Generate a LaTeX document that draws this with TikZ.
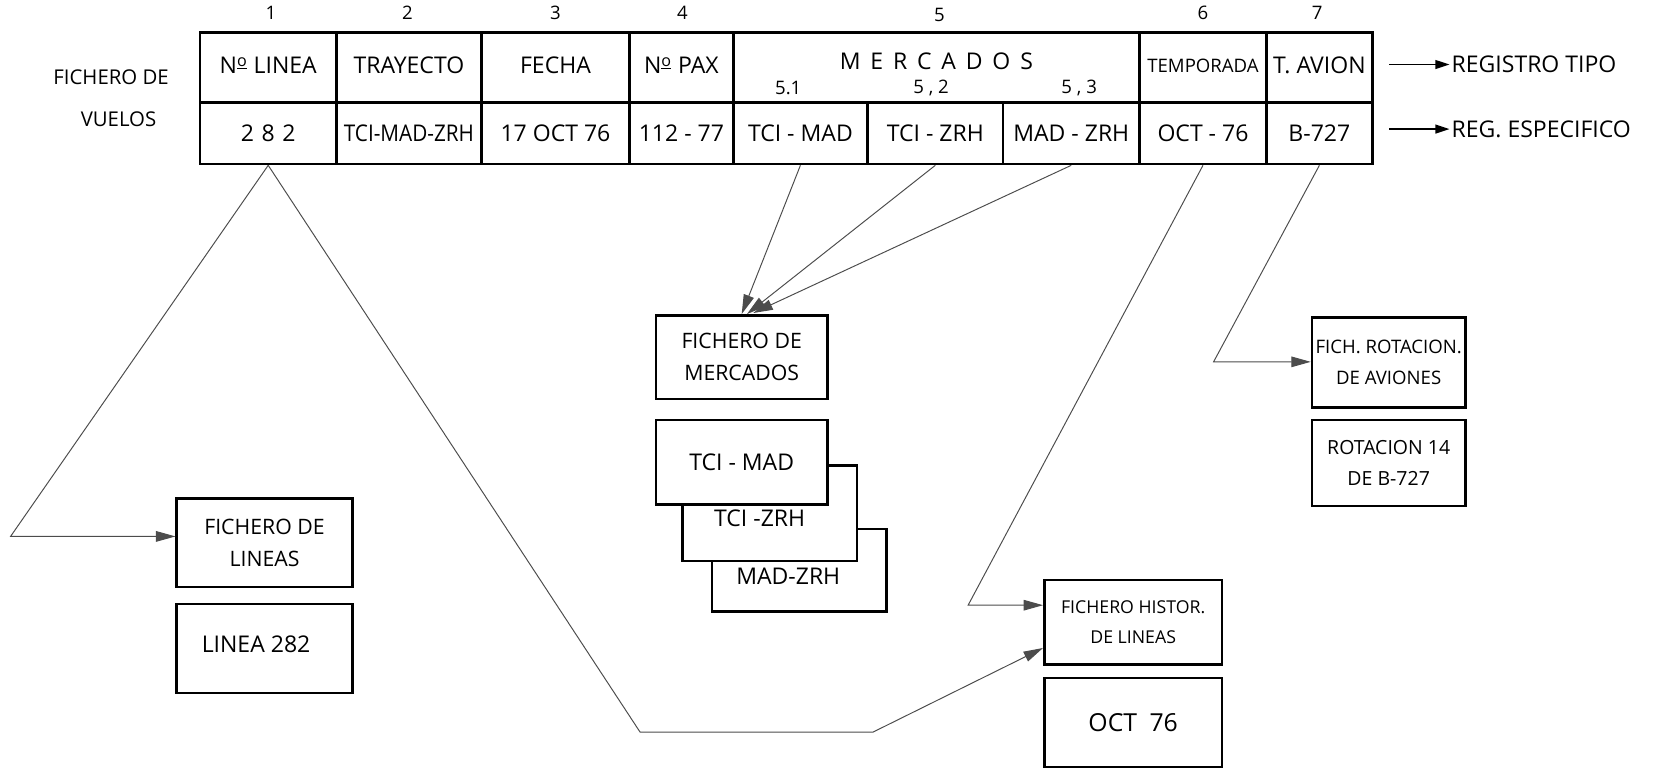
\documentclass[tikz,border=0pt]{standalone}
\usepackage{fontspec}
\setmainfont{Open Sans}
\usetikzlibrary{arrows.meta,fit,calc}
\begin{document}
\begin{tikzpicture}[x=0.021cm,y=-0.021cm,
  cellbox/.style={draw, line width=1.5pt, inner sep=0pt},
  boxx/.style={draw, line width=1.4pt, inner sep=0pt, fill=white},
  txt/.style={font=\fontsize{13}{15}\selectfont, inner sep=1pt},
  btxt/.style={font=\fontsize{12}{18}\selectfont, align=center, inner sep=1pt},
  small/.style={font=\fontsize{10.5}{12}\selectfont, inner sep=1pt},
  lbl/.style={font=\fontsize{11.5}{13}\selectfont, inner sep=1pt},
  conn/.style={line width=0.55pt, black!70},
  tip/.style={-{Triangle[length=11pt,width=6pt]}},
  regarrow/.style={line width=0.9pt, -{Triangle[length=8pt,width=5pt]}},
]
\useasboundingbox (0,0) rectangle (1568,727);

% left labels
\node[lbl] (lf1) at (105,73) {FICHERO DE};
\node[lbl] (lf2) at (112,113) {VUELOS};

% column numbers
\node[small] (n1) at (256,12) {1};
\node[small] (n2) at (385,12) {2};
\node[small] (n3) at (525,12) {3};
\node[small] (n4) at (645,12) {4};
\node[small] (n5) at (888,14) {5};
\node[small] (n6) at (1137,12) {6};
\node[small] (n7) at (1245,12) {7};

% header row
\node[cellbox, fit={(189,31)(318,97)}] (h1) {};
\node[cellbox, fit={(318,31)(455,97)}] (h2) {};
\node[cellbox, fit={(455,31)(595,97)}] (h3) {};
\node[cellbox, fit={(595,31)(693,97)}] (h4) {};
\node[cellbox, fit={(693,31)(1077,97)}] (h5) {};
\node[cellbox, fit={(1077,31)(1197,97)}] (h6) {};
\node[cellbox, fit={(1197,31)(1297,97)}] (h7) {};
\node[txt] (h1t) at ($(h1)+(0,-2)$) {N\textsuperscript{\underline{o}} LINEA};
\node[txt] (h2t) at ($(h2)+(0,-2)$) {TRAYECTO};
\node[txt] (h3t) at ($(h3)+(0,-2)$) {FECHA};
\node[txt] (h4t) at ($(h4)+(0,-2)$) {N\textsuperscript{\underline{o}} PAX};
\node[txt] (h5t) at (885,58) {M\, E\, R\, C\, A\, D\, O\, S};
\node[small] (s51) at (745,83) {5.1};
\node[small] (s52) at (880,83) {5 , 2};
\node[small] (s53) at (1020,83) {5 , 3};
\node[small] (h6t) at ($(h6)+(0,-2)$) {TEMPORADA};
\node[txt] (h7t) at ($(h7)+(0,-2)$) {T. AVION};

% value row
\node[cellbox, fit={(189,97)(318,155)}] (v1) {};
\node[cellbox, fit={(318,97)(455,155)}] (v2) {};
\node[cellbox, fit={(455,97)(595,155)}] (v3) {};
\node[cellbox, fit={(595,97)(693,155)}] (v4) {};
\node[cellbox, fit={(693,97)(820,155)}] (m1) {};
\node[cellbox, fit={(820,97)(948,155)}] (m2) {};
\node[cellbox, fit={(948,97)(1077,155)}] (m3) {};
\node[cellbox, fit={(1077,97)(1197,155)}] (v6) {};
\node[cellbox, fit={(1197,97)(1297,155)}] (v7) {};
\node[txt] (v1t) at (v1) {2\,\,8\,\,2};
\node[txt] (v2t) at (v2) {\scalebox{0.9}[1]{TCI-MAD-ZRH}};
\node[txt] (v3t) at (v3) {17 OCT 76};
\node[txt] (v4t) at (v4) {112 - 77};
\node[txt] (m1t) at (m1) {TCI - MAD};
\node[txt] (m2t) at (m2) {TCI - ZRH};
\node[txt] (m3t) at (m3) {MAD - ZRH};
\node[txt] (v6t) at (v6) {OCT - 76};
\node[txt] (v7t) at (v7) {B-727};

% register labels
\node[txt, anchor=west] (rt) at (1370,61) {REGISTRO TIPO};
\node[txt, anchor=west] (re) at (1370,122) {REG. ESPECIFICO};
\coordinate (ra) at (1313,61);
\coordinate (rb) at (1313,122);
\draw[regarrow] (ra) -- (rt.west);
\draw[regarrow] (rb) -- (re.west);

% lower boxes
\node[boxx, fit={(167,471)(333,555)}] (lin) {};
\node[btxt] (lint) at (lin) {FICHERO DE\\LINEAS};
\node[boxx, fit={(167,571)(333,655)}] (l282) {};
\node[txt] (l282t) at ($(l282)+(-8,-4)$) {LINEA 282};

\node[boxx, fit={(620,298)(782,377)}] (fm) {};
\node[btxt] (fmt) at (fm) {FICHERO DE\\MERCADOS};
\node[boxx, fit={(673,500)(838,578)}] (mz) {};
\node[boxx, fit={(645,440)(810,530)}] (tz) {};
\node[boxx, fit={(620,397)(782,477)}] (tm) {};
\node[txt] (tmt) at (701,437) {TCI - MAD};
\node[txt] (tzt) at (718,490) {TCI -ZRH};
\node[txt] (mzt) at (745,545) {MAD-ZRH};

\node[boxx, fit={(1240,300)(1385,385)}] (rot) {};
\node[btxt, font=\fontsize{10.5}{17}\selectfont] (rott) at (rot) {FICH. ROTACION.\\DE AVIONES};
\node[boxx, fit={(1240,397)(1385,478)}] (r14) {};
\node[btxt, font=\fontsize{11}{18}\selectfont] (r14t) at (r14) {ROTACION 14\\DE B-727};

\node[boxx, fit={(987,548)(1155,628)}] (hist) {};
\node[btxt, font=\fontsize{10}{17}\selectfont] (histt) at (hist) {FICHERO HISTOR.\\DE LINEAS};
\node[boxx, fit={(987,641)(1155,725)}] (o76) {};
\node[txt, font=\fontsize{14}{16}\selectfont] (o76t) at (o76) {OCT\,\,\,76};

% connectors
\coordinate (kA) at (10,507);
\draw[conn,tip] (v1.south) -- (kA) -- (kA -| lin.west);
\coordinate (kB) at (605,692);
\coordinate (kC) at (825,692);
\draw[conn,tip] (v1.south) -- (kB) -- (kC) -- (hist.196);

\draw[conn,tip] (m1.south) -- (fm.north);
\draw[conn,tip] (m2.south) -- ($(fm.north)+(5,0)$);
\draw[conn,tip] (m3.south) -- ($(fm.north)+(11,-1)$);

\coordinate (kT) at (915,572);
\draw[conn,tip] (v6.south) -- (kT) -- (kT -| hist.west);
\coordinate (kR) at (1147,342);
\draw[conn,tip] (v7.south) -- (kR) -- (kR -| rot.west);
\end{tikzpicture}
\end{document}
